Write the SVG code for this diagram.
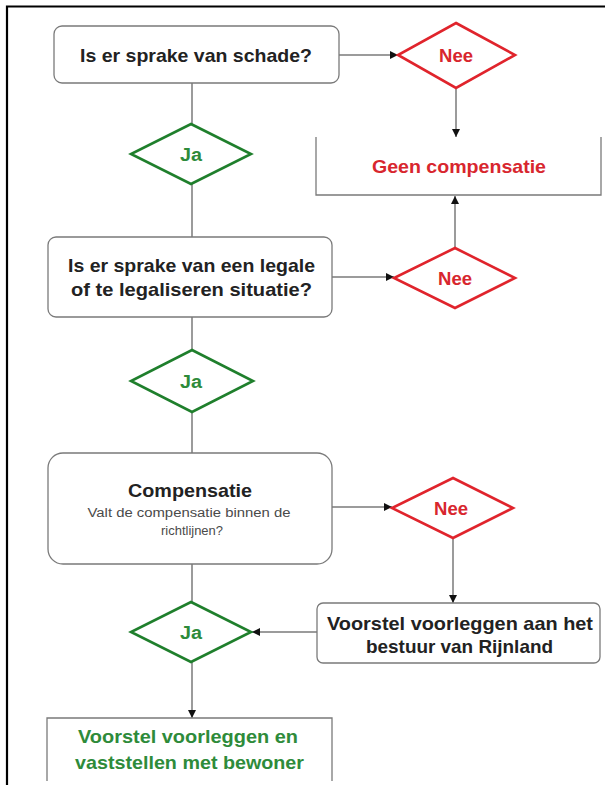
<svg xmlns="http://www.w3.org/2000/svg" width="605" height="785" viewBox="0 0 605 785">
<style>
  .box { fill: #ffffff; stroke: #7a7a7a; stroke-width: 1.3; }
  .red { fill: #ffffff; stroke: #e0242c; stroke-width: 2.6; stroke-linejoin: miter; }
  .green { fill: #ffffff; stroke: #1f7f2c; stroke-width: 2.6; stroke-linejoin: miter; }
  .t { font-family: "Liberation Sans", Arial, sans-serif; font-weight: bold; text-anchor: middle; fill: #222222; font-size: 19px; }
  .tr { fill: #d8262e; }
  .tg { fill: #2e8b3a; }
  .small { font-family: "Liberation Sans", Arial, sans-serif; font-weight: normal; text-anchor: middle; fill: #4a4a4a; font-size: 12.5px; }
  .lbl { font-size: 17.5px; }
  .conn { fill: none; stroke: #7a7a7a; stroke-width: 1.5; }
</style>
<defs>
  <marker id="arr" markerWidth="10" markerHeight="10" refX="9" refY="5" orient="auto" markerUnits="userSpaceOnUse">
    <path d="M1,1 L9,5 L1,9 Z" fill="#111111"/>
  </marker>
</defs>

<!-- frame -->
<path d="M7,785 L7,6.5 L605,6.5" fill="none" stroke="#000000" stroke-width="2.2"/>

<g id="connectors">
  <line class="conn" x1="339" y1="55" x2="398" y2="55" marker-end="url(#arr)"/>
  <line class="conn" x1="456" y1="88" x2="456" y2="137" marker-end="url(#arr)"/>
  <line class="conn" x1="192" y1="83" x2="192" y2="237"/>
  <line class="conn" x1="332" y1="277" x2="394" y2="277" marker-end="url(#arr)"/>
  <line class="conn" x1="455" y1="248" x2="455" y2="196" marker-end="url(#arr)"/>
  <line class="conn" x1="192" y1="317" x2="192" y2="453"/>
  <line class="conn" x1="332" y1="507" x2="392" y2="507" marker-end="url(#arr)"/>
  <line class="conn" x1="453" y1="538" x2="453" y2="603" marker-end="url(#arr)"/>
  <line class="conn" x1="192" y1="564" x2="192" y2="602"/>
  <line class="conn" x1="317" y1="632" x2="252" y2="632" marker-end="url(#arr)"/>
  <line class="conn" x1="192" y1="662" x2="192" y2="718" marker-end="url(#arr)"/>
</g>

<g id="q-schade">
  <rect class="box" x="54" y="26" width="285" height="57" rx="8"/>
  <text class="t" x="196" y="62" textLength="232" lengthAdjust="spacingAndGlyphs">Is er sprake van schade?</text>
</g>

<g id="nee-1">
  <polygon class="red" points="456,23 515,55 456,88 398,55"/>
  <text class="t tr lbl" x="456" y="61.5" textLength="34" lengthAdjust="spacingAndGlyphs">Nee</text>
</g>

<g id="geen-compensatie">
  <path class="box" d="M316,137 L316,195 L601,195 L601,137" fill="none"/>
  <text class="t tr" x="459" y="172.5" textLength="174" lengthAdjust="spacingAndGlyphs">Geen compensatie</text>
</g>

<g id="ja-1">
  <polygon class="green" points="191,124 251,154 191,184 131,154"/>
  <text class="t tg lbl" x="191" y="160.5" textLength="22" lengthAdjust="spacingAndGlyphs">Ja</text>
</g>

<g id="q-legaal">
  <rect class="box" x="48" y="237" width="284" height="80" rx="8"/>
  <text class="t" x="191.5" y="272" textLength="247" lengthAdjust="spacingAndGlyphs">Is er sprake van een legale</text>
  <text class="t" x="191.5" y="296" textLength="241" lengthAdjust="spacingAndGlyphs">of te legaliseren situatie?</text>
</g>

<g id="nee-2">
  <polygon class="red" points="455,248 515,278 455,308 394,278"/>
  <text class="t tr lbl" x="455" y="284.5" textLength="34" lengthAdjust="spacingAndGlyphs">Nee</text>
</g>

<g id="ja-2">
  <polygon class="green" points="192,350 253,381 192,412 131,381"/>
  <text class="t tg lbl" x="191" y="387.5" textLength="22" lengthAdjust="spacingAndGlyphs">Ja</text>
</g>

<g id="compensatie">
  <rect class="box" x="48" y="453" width="284" height="111" rx="15"/>
  <text class="t" x="190" y="497" textLength="124" lengthAdjust="spacingAndGlyphs">Compensatie</text>
  <text class="small" x="189" y="517" textLength="203" lengthAdjust="spacingAndGlyphs">Valt de compensatie binnen de</text>
  <text class="small" x="192" y="535" textLength="62" lengthAdjust="spacingAndGlyphs">richtlijnen?</text>
</g>

<g id="nee-3">
  <polygon class="red" points="453,478 513,508 453,538 392,508"/>
  <text class="t tr lbl" x="451" y="514.5" textLength="34" lengthAdjust="spacingAndGlyphs">Nee</text>
</g>

<g id="voorstel-bestuur">
  <rect class="box" x="317" y="603" width="283" height="60" rx="6"/>
  <text class="t" x="460" y="630" textLength="266" lengthAdjust="spacingAndGlyphs">Voorstel voorleggen aan het</text>
  <text class="t" x="459.5" y="653" textLength="187" lengthAdjust="spacingAndGlyphs">bestuur van Rijnland</text>
</g>

<g id="ja-3">
  <polygon class="green" points="191,602 251,632 191,662 131,632"/>
  <text class="t tg lbl" x="191" y="638.5" textLength="22" lengthAdjust="spacingAndGlyphs">Ja</text>
</g>

<g id="voorstel-bewoner">
  <path class="box" d="M47,781 L47,718 L332,718 L332,781" fill="none"/>
  <text class="t tg" x="188" y="743" textLength="220" lengthAdjust="spacingAndGlyphs">Voorstel voorleggen en</text>
  <text class="t tg" x="189.5" y="769" textLength="229" lengthAdjust="spacingAndGlyphs">vaststellen met bewoner</text>
</g>
</svg>
